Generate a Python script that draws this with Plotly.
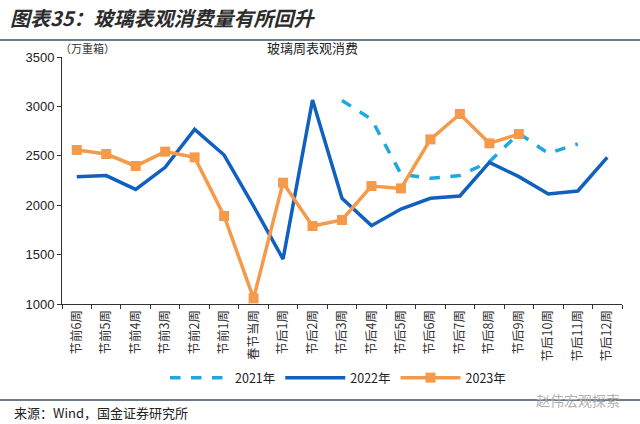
import plotly.graph_objects as go

categories = ["节前6周", "节前5周", "节前4周", "节前3周", "节前2周", "节前1周", "春节当周",
              "节后1周", "节后2周", "节后3周", "节后4周", "节后5周", "节后6周", "节后7周",
              "节后8周", "节后9周", "节后10周", "节后11周", "节后12周"]

y2021 = [None, None, None, None, None, None, None, None, None,
         3060, 2870, 2315, 2272, 2300, 2440, 2727, 2525, 2620, None]
y2022 = [2289, 2300, 2160, 2383, 2768, 2508, 1990, 1455, 3065, 2070,
         1793, 1961, 2070, 2093, 2434, 2289, 2113, 2144, 2484]
y2023 = [2559, 2518, 2397, 2542, 2484, 1891, 1057, 2228, 1789, 1850,
         2194, 2170, 2666, 2923, 2626, 2720, None, None, None]

C21 = "#1FA8E0"
C22 = "#1060C0"
C23 = "#F5994A"

fig = go.Figure()
fig.add_trace(go.Scatter(x=categories, y=y2021, name="2021年", mode="lines",
                         line=dict(color=C21, width=3.5, dash="dash")))
fig.add_trace(go.Scatter(x=categories, y=y2022, name="2022年", mode="lines",
                         line=dict(color=C22, width=3.5)))
fig.add_trace(go.Scatter(x=categories, y=y2023, name="2023年", mode="lines+markers",
                         line=dict(color=C23, width=3.5),
                         marker=dict(symbol="square", size=10, color=C23)))

W, H = 640, 424
L, R, T, B = 62, 18, 57, 120
pw, ph = W - L - R, H - T - B

def px(x):
    return (x - L) / pw

def py(y):
    return (H - B - y) / ph

cjk = "Noto Sans CJK SC"
fig.update_layout(
    width=W, height=H,
    margin=dict(l=L, r=R, t=T, b=B),
    paper_bgcolor="white", plot_bgcolor="white",
    font=dict(family=cjk, color="#222", size=12),
    showlegend=True,
    legend=dict(orientation="h", x=px(338), xanchor="center", y=py(378), yanchor="middle",
                font=dict(size=12.5, family=cjk), itemwidth=60, tracegroupgap=0),
    xaxis=dict(type="category", showline=True, linecolor="#333", linewidth=1,
               ticks="outside", ticklen=4, tickcolor="#333", tickson="boundaries",
               tickangle=-90, tickfont=dict(size=12.5, family=cjk, color="#333"),
               showgrid=False, zeroline=False, range=[-0.5, 18.5]),
    yaxis=dict(range=[1000, 3500], dtick=500, showline=True, linecolor="#333", linewidth=1,
               ticks="outside", ticklen=4, tickcolor="#333", showgrid=False, zeroline=False,
               tickfont=dict(size=13, family="Liberation Sans", color="#222")),
)

fig.add_shape(type="line", xref="paper", yref="paper", x0=px(0), x1=px(640), y0=py(40), y1=py(40),
              line=dict(color="#3C4E60", width=1.5))
fig.add_shape(type="line", xref="paper", yref="paper", x0=px(0), x1=px(640), y0=py(400), y1=py(400),
              line=dict(color="#3C4E60", width=1.5))

anns = [
    dict(text="<b><i>图表35：玻璃表观消费量有所回升</i></b>", x=px(8), y=py(18), xanchor="left",
         font=dict(size=20, color="#2B2B2B", family=cjk)),
    dict(text="玻璃周表观消费", x=px(312), y=py(47), xanchor="center",
         font=dict(size=13, color="#222", family=cjk)),
    dict(text="（万重箱）", x=px(58), y=py(48), xanchor="left",
         font=dict(size=11, color="#333", family=cjk)),
    dict(text="来源：Wind，国金证券研究所", x=px(12), y=py(412), xanchor="left",
         font=dict(size=13, color="#222", family=cjk)),
    dict(text="赵伟宏观探索", x=px(622), y=py(400), xanchor="right",
         font=dict(size=14, color="#B0B0B0", family=cjk)),
]
for a in anns:
    a.update(xref="paper", yref="paper", yanchor="middle", showarrow=False)
    fig.add_annotation(**a)

fig.write_html("out.html", config={"displayModeBar": False},
               post_script="document.body.style.margin='0';document.body.style.overflow='hidden';")
